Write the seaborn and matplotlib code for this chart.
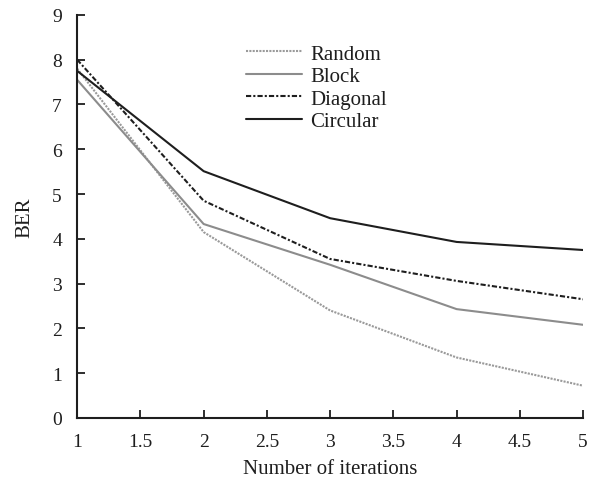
import matplotlib
matplotlib.use("Agg")
import matplotlib.pyplot as plt
import seaborn as sns
import pandas as pd

iterations = [1, 2, 3, 4, 5]
random_ber = [7.80, 4.15, 2.40, 1.35, 0.72]
block_ber = [7.55, 4.33, 3.42, 2.43, 2.08]
diagonal_ber = [8.00, 4.85, 3.55, 3.06, 2.65]
circular_ber = [7.75, 5.51, 4.46, 3.93, 3.75]

series_names = ["Random", "Block", "Diagonal", "Circular"]
series_values = [random_ber, block_ber, diagonal_ber, circular_ber]
colors = ["#9a9a9a", "#8c8c8c", "#1e1e1e", "#1e1e1e"]
styles = [(0, (1, 0.6)), "-", (0, (2.5, 1, 1, 1)), "-"]

sns.set_theme(style="ticks")
plt.rcParams['font.family'] = ['Liberation Serif', 'DejaVu Serif']

fig = plt.figure(figsize=(5.89, 4.81), dpi=100)
ax = fig.add_axes([0.131, 0.129, 0.859, 0.838])

for name, vals, c, ls in zip(series_names, series_values, colors, styles):
    df = pd.DataFrame({"x": iterations, "y": vals})
    sns.lineplot(data=df, x="x", y="y", ax=ax, color=c, linestyle=ls,
                 linewidth=1.5, label=name)

ax.set_xlim(1, 5)
ax.set_ylim(0, 9)
ax.set_xticks([1, 1.5, 2, 2.5, 3, 3.5, 4, 4.5, 5])
ax.set_xticklabels(["1", "1.5", "2", "2.5", "3", "3.5", "4", "4.5", "5"])
ax.set_yticks(range(0, 10))
ax.tick_params(direction="in", length=6, width=1.3, labelsize=14, colors="#1e1e1e")
ax.tick_params(axis="x", pad=11)
ax.tick_params(axis="y", pad=11)
for s in ["top", "right"]:
    ax.spines[s].set_visible(False)
for s in ["left", "bottom"]:
    ax.spines[s].set_linewidth(1.5)
    ax.spines[s].set_color("#1e1e1e")

ax.set_xlabel("Number of iterations", fontsize=15, color="#1e1e1e", labelpad=6)
ax.set_ylabel("BER", fontsize=15, color="#1e1e1e", labelpad=13)

leg = ax.legend(loc="upper left", bbox_to_anchor=(0.318, 0.948), frameon=False,
                fontsize=15, handlelength=2.65, handletextpad=0.4,
                labelspacing=0.14, borderaxespad=0)
for t in leg.get_texts():
    t.set_color("#1e1e1e")

fig.savefig("out.png", dpi=100)
